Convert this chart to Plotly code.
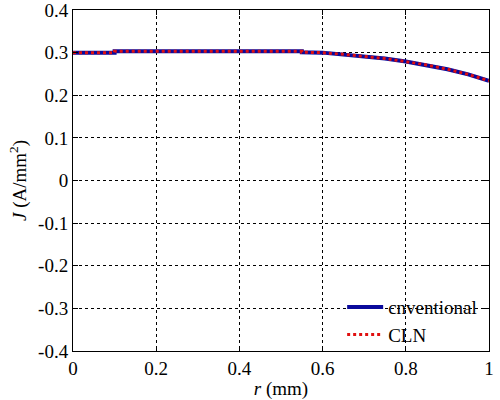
import plotly.graph_objects as go

# radius (mm) and current density (A/mm^2)
r_mm = [0.0, 0.1, 0.1, 0.55, 0.55, 0.6, 0.65, 0.7, 0.75, 0.8, 0.85, 0.9, 0.95, 1.0]
J_conv = [0.300, 0.300, 0.303, 0.303, 0.301, 0.300, 0.296, 0.291, 0.286, 0.279, 0.271, 0.261, 0.249, 0.234]
J_cln = [0.300, 0.300, 0.303, 0.303, 0.301, 0.300, 0.296, 0.291, 0.286, 0.279, 0.271, 0.261, 0.249, 0.234]
names = ["cnventional", "CLN"]

x_ticks = [0, 0.2, 0.4, 0.6, 0.8, 1]
y_ticks = [-0.4, -0.3, -0.2, -0.1, 0, 0.1, 0.2, 0.3, 0.4]

fnt = "Liberation Serif"
fsz = 19

fig = go.Figure()
fig.add_trace(go.Scatter(x=r_mm, y=J_conv, mode="lines", name=names[0],
                         line=dict(color="#0a0a9c", width=4)))
fig.add_trace(go.Scatter(x=r_mm, y=J_cln, mode="lines", name=names[1],
                         line=dict(color="#e01010", width=3, dash="dot")))

axis_common = dict(showline=True, linecolor="black", linewidth=1, mirror="ticks",
                   ticks="inside", ticklen=5, tickcolor="black", automargin=False,
                   ticklabeloverflow="allow",
                   showgrid=True, gridcolor="black", gridwidth=1, griddash="3px,3px",
                   zeroline=False, tickfont=dict(family=fnt, size=fsz, color="black"))

fig.update_xaxes(range=[0, 1], tickvals=x_ticks, ticktext=[f"{v:g}" for v in x_ticks],
                 title=dict(text="<i>r</i> (mm)", font=dict(family=fnt, size=fsz, color="black"), standoff=5),
                 **axis_common)
fig.update_yaxes(range=[-0.4, 0.4], tickvals=y_ticks, ticktext=[f"{v:g}" for v in y_ticks],
                 title=dict(text="<i>J</i> (A/mm<sup>2</sup>)", font=dict(family=fnt, size=fsz, color="black"), standoff=6),
                 **axis_common)

fig.update_layout(width=500, height=400, plot_bgcolor="white", paper_bgcolor="white",
                  margin=dict(l=73, r=11, t=10, b=49),
                  font=dict(family=fnt, size=fsz, color="black"),
                  legend=dict(x=0.647, y=-0.009, xanchor="left", yanchor="bottom",
                              bgcolor="rgba(0,0,0,0)", borderwidth=0, itemwidth=36,
                              font=dict(family=fnt, size=fsz, color="black"),
                              tracegroupgap=0))

# drop the default 8px body margin so the figure sits flush in the window
fig.write_html("out.html", config={"displayModeBar": False},
               post_script="document.body.style.margin='0';")
